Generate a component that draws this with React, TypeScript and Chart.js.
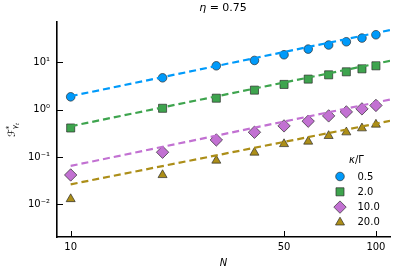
import React, { useEffect, useRef } from "react";
import { Chart, registerables } from "chart.js";

Chart.register(...registerables);

// ---- data ----
const N = [10, 20, 30, 40, 50, 60, 70, 80, 90, 100];
const kappaLabels = ["0.5", "2.0", "10.0", "20.0"];
const s05 = [1.87, 4.72, 8.47, 11.0, 14.5, 19.1, 23.3, 27.3, 32.7, 38.4];
const s2 = [0.41, 1.07, 1.75, 2.59, 3.42, 4.43, 5.46, 6.32, 7.31, 8.47];
const s10 = [0.0416, 0.126, 0.229, 0.333, 0.454, 0.571, 0.739, 0.898, 1.04, 1.23];
const s20 = [0.0129, 0.0416, 0.084, 0.124, 0.188, 0.212, 0.279, 0.333, 0.405, 0.485];
const fitN = [10, 111.2];
const fit05 = [1.93, 48.3];
const fit2 = [0.447, 10.8];
const fit10 = [0.0646, 1.64];
const fit20 = [0.0264, 0.58];
const xTicks = [10, 50, 100];
const xTickLabels = ["10", "50", "100"];
const yTicks = [0.01, 0.1, 1, 10];
const yTickLabels = ["10⁻²", "10⁻¹", "10⁰", "10¹"];

const colors = ["#009AFA", "#3EA44E", "#C271D2", "#AC8E18"];
const pointStyles = ["circle", "rect", "rectRot", "triangle"];
const radii = [4.3, 5.7, 6.2, 5.2];
const FONT = "'DejaVu Sans', sans-serif";
const MARKER_BORDER = "rgba(40,40,40,0.85)";

function drawMarker(ctx: CanvasRenderingContext2D, style: string, x: number, y: number, r: number) {
  ctx.beginPath();
  if (style === "circle") {
    ctx.arc(x, y, r, 0, Math.PI * 2);
  } else if (style === "rect") {
    const h = r * Math.SQRT1_2;
    ctx.rect(x - h, y - h, 2 * h, 2 * h);
  } else if (style === "rectRot") {
    ctx.moveTo(x, y - r);
    ctx.lineTo(x + r, y);
    ctx.lineTo(x, y + r);
    ctx.lineTo(x - r, y);
    ctx.closePath();
  } else {
    let rad = 0;
    ctx.moveTo(x + Math.sin(rad) * r, y - Math.cos(rad) * r);
    rad += (2 * Math.PI) / 3;
    ctx.lineTo(x + Math.sin(rad) * r, y - Math.cos(rad) * r);
    rad += (2 * Math.PI) / 3;
    ctx.lineTo(x + Math.sin(rad) * r, y - Math.cos(rad) * r);
    ctx.closePath();
  }
  ctx.fill();
  ctx.stroke();
}

const decorPlugin = {
  id: "decor",
  beforeDatasetsDraw(chart: any) {
    const ctx = chart.ctx as CanvasRenderingContext2D;
    const { left, bottom } = chart.chartArea;
    const xs = chart.scales.x;
    const ys = chart.scales.y;
    ctx.save();
    ctx.strokeStyle = "#000";
    ctx.lineWidth = 1;
    yTicks.forEach((v) => {
      const py = Math.round(ys.getPixelForValue(v)) + 0.5;
      ctx.beginPath();
      ctx.moveTo(left, py);
      ctx.lineTo(left + 6, py);
      ctx.stroke();
    });
    xTicks.forEach((v) => {
      const px = Math.round(xs.getPixelForValue(v)) + 0.5;
      ctx.beginPath();
      ctx.moveTo(px, bottom);
      ctx.lineTo(px, bottom - 6);
      ctx.stroke();
    });
    ctx.restore();
  },
  afterDraw(chart: any) {
    const ctx = chart.ctx as CanvasRenderingContext2D;
    ctx.save();
    ctx.fillStyle = "#000";
    ctx.textBaseline = "middle";
    // title: η = 0.75
    ctx.font = `italic 11px ${FONT}`;
    const eta = "η";
    const rest = " = 0.75";
    const w1 = ctx.measureText(eta).width;
    ctx.font = `11px ${FONT}`;
    const w2 = ctx.measureText(rest).width;
    const cx = 223;
    const tx = cx - (w1 + w2) / 2;
    ctx.textAlign = "left";
    ctx.font = `italic 11px ${FONT}`;
    ctx.fillText(eta, tx, 8.5);
    ctx.font = `11px ${FONT}`;
    ctx.fillText(rest, tx + w1, 8.5);

    // y label: F*_{γ_t} rotated
    ctx.save();
    ctx.translate(11, 137);
    ctx.rotate(-Math.PI / 2);
    ctx.textAlign = "left";
    ctx.textBaseline = "alphabetic";
    ctx.font = `italic 10px ${FONT}`;
    ctx.fillText("ℱ", 0, 3.5);
    const fw = ctx.measureText("ℱ").width;
    ctx.font = `7px ${FONT}`;
    ctx.fillText("*", fw, -0.5);
    ctx.font = `italic 7px ${FONT}`;
    ctx.fillText("γ", fw, 6);
    const gw = ctx.measureText("γ").width;
    ctx.font = `italic 5px ${FONT}`;
    ctx.fillText("t", fw + gw, 7.5);
    ctx.restore();

    // legend
    const lx = 340;
    const labelX = 357.5;
    ctx.textBaseline = "middle";
    ctx.font = `italic 10px ${FONT}`;
    const k = "κ";
    const kw = ctx.measureText(k).width;
    ctx.font = `10px ${FONT}`;
    const gw2 = ctx.measureText("/Γ").width;
    const tcx = 356.5;
    ctx.textAlign = "left";
    ctx.font = `italic 10px ${FONT}`;
    ctx.fillText(k, tcx - (kw + gw2) / 2, 160);
    ctx.font = `10px ${FONT}`;
    ctx.fillText("/Γ", tcx - (kw + gw2) / 2 + kw, 160);

    kappaLabels.forEach((lab, i) => {
      const y = 176.5 + i * 15.3;
      ctx.fillStyle = colors[i];
      ctx.strokeStyle = MARKER_BORDER;
      ctx.lineWidth = 0.8;
      drawMarker(ctx, pointStyles[i], lx, y, radii[i]);
      ctx.fillStyle = "#000";
      ctx.font = `10px ${FONT}`;
      ctx.textAlign = "left";
      ctx.fillText(lab, labelX, y + 0.5);
    });
    ctx.restore();
  },
};

export default function App() {
  const ref = useRef<HTMLCanvasElement | null>(null);
  useEffect(() => {
    if (!ref.current) return;
    const series = [s05, s2, s10, s20];
    const fits = [fit05, fit2, fit10, fit20];
    const fitDatasets = fits.map((f, i) => ({
      label: "fit " + kappaLabels[i],
      data: fitN.map((x, j) => ({ x, y: f[j] })),
      showLine: true,
      borderColor: colors[i],
      backgroundColor: colors[i],
      borderWidth: 2.2,
      borderDash: [7, 4],
      pointRadius: 0,
      order: 0,
    }));
    const pointDatasets = series.map((s, i) => ({
      label: kappaLabels[i],
      data: N.map((x, j) => ({ x, y: s[j] })),
      showLine: false,
      backgroundColor: colors[i],
      borderColor: MARKER_BORDER,
      borderWidth: 0.8,
      pointStyle: pointStyles[i],
      pointRadius: radii[i],
      order: 1,
    }));
    const chart = new Chart(ref.current, {
      type: "scatter",
      data: { datasets: [...pointDatasets, ...fitDatasets] as any },
      plugins: [decorPlugin],
      options: {
        animation: false,
        responsive: true,
        maintainAspectRatio: false,
        layout: { padding: { left: 0, right: 2, top: 22, bottom: 0 } },
        plugins: {
          legend: { display: false },
          title: { display: false },
          tooltip: { enabled: false },
        },
        scales: {
          x: {
            type: "logarithmic",
            min: 9.02,
            max: 111.2,
            bounds: "data",
            afterBuildTicks: (s: any) => {
              s.ticks = xTicks.map((v) => ({ value: v }));
            },
            afterFit: (s: any) => {
              s.height = 38;
              s.paddingLeft = 0;
              s.paddingRight = 0;
            },
            ticks: {
              autoSkip: false,
              maxRotation: 0,
              padding: 4,
              color: "#000",
              font: { family: FONT, size: 10 },
              callback: (v: any) => {
                const i = xTicks.indexOf(Number(v));
                return i >= 0 ? xTickLabels[i] : "";
              },
            },
            grid: { display: false, drawTicks: false },
            border: { display: true, color: "#000", width: 1.6 },
            title: {
              display: true,
              text: "N",
              color: "#000",
              font: { family: FONT, size: 10, style: "italic" },
              padding: { top: 0, bottom: 6 },
            },
          },
          y: {
            type: "logarithmic",
            min: 0.00203,
            max: 71.5,
            bounds: "data",
            afterBuildTicks: (s: any) => {
              s.ticks = yTicks.map((v) => ({ value: v }));
            },
            afterFit: (s: any) => {
              s.width = 57;
              s.paddingTop = 0;
              s.paddingBottom = 0;
            },
            ticks: {
              autoSkip: false,
              padding: 7,
              color: "#000",
              font: { family: FONT, size: 10 },
              callback: (v: any) => {
                const i = yTicks.findIndex((t) => Math.abs(t - Number(v)) / t < 1e-6);
                return i >= 0 ? yTickLabels[i] : "";
              },
            },
            grid: { display: false, drawTicks: false },
            border: { display: true, color: "#000", width: 1.6 },
          },
        },
      } as any,
    });
    return () => chart.destroy();
  }, []);
  return (
    <div style={{ position: "fixed", left: 0, top: 0, width: 394, height: 275, overflow: "hidden" }}>
      <div style={{ position: "relative", width: 397, height: 275 }}>
        <canvas ref={ref} />
      </div>
    </div>
  );
}
